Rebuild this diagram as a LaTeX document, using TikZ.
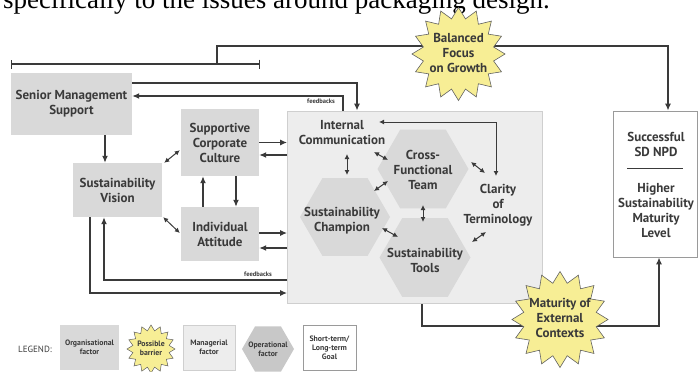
\documentclass[tikz,border=0pt]{standalone}
\usepackage{fontspec}
\setmainfont{PT Sans}
\newfontfamily\textserif{Liberation Serif}
\usetikzlibrary{shapes.geometric,arrows.meta,backgrounds}

\definecolor{ink}{HTML}{3A3A3A}
\definecolor{orgfill}{HTML}{D9D9D9}
\definecolor{mgrfill}{HTML}{EDEDED}
\definecolor{mgrline}{HTML}{CFCFCF}
\definecolor{hexfill}{HTML}{D9D9D9}
\definecolor{starfill}{HTML}{F7EE95}
\definecolor{goalline}{HTML}{9A9A9A}

\begin{document}
\begin{tikzpicture}[x=1pt,y=-1pt,
  lbl/.style={font=\bfseries\fontsize{13}{15}\selectfont, align=center, text=ink, inner sep=0pt},
  tiny/.style={font=\bfseries\fontsize{7.8}{9}\selectfont, align=center, text=ink, inner sep=0pt},
  orgbox/.style={rectangle, fill=orgfill, draw=none, inner sep=0pt},
  mgrbox/.style={rectangle, fill=mgrfill, draw=mgrline, line width=0.8pt, inner sep=0pt},
  goalbox/.style={rectangle, fill=white, draw=goalline, line width=0.8pt, inner sep=0pt},
  hexa/.style={regular polygon, regular polygon sides=6, fill=hexfill, draw=none, inner sep=0pt},
  barrier/.style={star, star points=16, star point ratio=1.3, fill=starfill, draw=ink!80, line width=0.6pt, inner sep=0pt},
  conn/.style={draw=ink, line width=1.3pt},
  arr/.style={conn, -{Latex[length=7pt,width=6pt]}},
  twoway/.style={draw=ink, line width=1pt, {Latex[length=5pt,width=5pt]}-{Latex[length=5pt,width=5pt]}},
]
\useasboundingbox (0,0) rectangle (699,372);

% running text of the page above the figure
\node[anchor=base west, inner sep=0pt, font=\textserif\fontsize{27}{30}\selectfont, text=black] (runline) at (3,8.5)
  {specifically to the issues around packaging design.};

% organisational factors
\node[orgbox, minimum width=121, minimum height=62, lbl] (sms) at (71.5,104) {Senior Management\\Support};
\node[orgbox, minimum width=78, minimum height=67, lbl] (scc) at (220,142.5) {Supportive\\Corporate\\Culture};
\node[orgbox, minimum width=89, minimum height=54, lbl] (sv) at (117.5,190) {Sustainability\\Vision};
\node[orgbox, minimum width=78, minimum height=54, lbl] (ia) at (220,234) {Individual\\Attitude};

% managerial factors and operational hexagons
\node[mgrbox, minimum width=255, minimum height=192] (mgr) at (415,207) {};
\node[hexa, minimum size=91] (cfthex) at (423,169) {};
\node[hexa, minimum size=90] (schex) at (345,217) {};
\node[hexa, minimum size=91] (sthex) at (425,257.5) {};
\node[lbl] (ic) at (342,133) {Internal\\Communication};
\node[lbl] (cft) at (423,170) {Cross-\\Functional\\Team};
\node[lbl] (sc) at (342,220.5) {Sustainability\\Champion};
\node[lbl] (st) at (425,260.5) {Sustainability\\Tools};
\node[lbl] (clar) at (498,205) {Clarity\\of\\Terminology};

% goal
\node[goalbox, minimum width=84, minimum height=146] (goal) at (655,184) {};
\node[lbl] (goalA) at (656,144) {Successful\\SD NPD};
\node[lbl] (goalB) at (656,210) {Higher\\Sustainability\\Maturity\\Level};
\draw[draw=ink, line width=0.8pt] ([xshift=-28pt]goal.center |- 0,168) coordinate (rl) -- ([xshift=28pt]goal.center |- 0,168) coordinate (rr);

% possible barriers
\node[barrier, minimum size=93] (bal) at (458.5,54) {};
\node[lbl] (balt) at (458.5,53) {Balanced\\Focus\\on Growth};
\node[barrier, minimum size=96] (mat) at (560,319.5) {};
\node[lbl] (matt) at (560,318) {Maturity of\\External\\Contexts};

% time bracket
\coordinate (brL) at (11,64);
\coordinate (brR) at (260,64);
\coordinate (brM) at (217,64);
\draw[conn, {Bar[width=9pt]}-{Bar[width=9pt]}] (brL) -- (brR);

\begin{scope}[on background layer]
  \draw[conn] (brM) |- ([yshift=8pt]bal.center);
  \draw[arr] ([yshift=8pt]bal.center) -| ([xshift=13pt]goal.north);
  \draw[conn] ([xshift=7pt]mgr.south) |- ([yshift=-6.5pt]mat.center);
  \draw[arr] ([yshift=-6.5pt]mat.center) -| ([xshift=4pt]goal.south);
\end{scope}

% links between the organisational factors
\draw[arr] ([yshift=21pt]sms.east) -| ([xshift=-58pt]mgr.north);
\draw[arr] ([xshift=-72pt]mgr.north) |- ([yshift=8pt]sms.east);
\node[tiny, font=\bfseries\fontsize{6.5}{7}\selectfont] (fbtop) at (321,101) {feedbacks};
\draw[arr] ([xshift=33.5pt]sms.south) -- ([xshift=-12.5pt]sv.north);
\draw[twoway] ([shift={(2,0)}]sv.north east) -- ([shift={(-1,-26)}]scc.south west);
\draw[twoway] ([shift={(1,0)}]sv.south east) -- ([shift={(-1,-1)}]ia.west);
\draw[arr] (scc.east) -- (scc.east -| mgr.west);
\draw[arr] ([yshift=52pt]mgr.west) -- ([yshift=-12.5pt]scc.east);
\draw[arr] ([xshift=-17pt]ia.north) -- ([xshift=-17pt]scc.south);
\draw[arr] ([xshift=16pt]scc.south) -- ([xshift=16pt]ia.north);
\draw[arr] ([yshift=1pt]ia.east) -- ([yshift=1pt]ia.east -| mgr.west);
\draw[arr] ([yshift=-41pt]mgr.west) -- ([yshift=-14pt]ia.east);
\draw[arr] ([yshift=-73pt]mgr.west) -| ([xshift=-13.5pt]sv.south);
\node[tiny, font=\bfseries\fontsize{6.5}{7}\selectfont] (fbbot) at (258,274) {feedbacks};
\draw[arr] ([xshift=-27.5pt]sv.south) |- ([yshift=-86pt]mgr.west);

% links inside the managerial factors
\coordinate (icR) at (379,122);
\coordinate (clT) at (496,176);
\draw[twoway] (icR) -| (clT);
\coordinate (a1) at (347,154); \coordinate (b1) at (347,175);
\draw[twoway] (a1) -- (b1);
\coordinate (a2) at (374,152); \coordinate (b2) at (388,160);
\draw[twoway] (a2) -- (b2);
\coordinate (a3) at (471,162); \coordinate (b3) at (485,173);
\draw[twoway] (a3) -- (b3);
\coordinate (a4) at (374,191); \coordinate (b4) at (388,181);
\draw[twoway] (a4) -- (b4);
\coordinate (a5) at (423,205); \coordinate (b5) at (423,222);
\draw[twoway] (a5) -- (b5);
\coordinate (a6) at (382,228); \coordinate (b6) at (398,237);
\draw[twoway] (a6) -- (b6);
\coordinate (a7) at (472,242); \coordinate (b7) at (486,232);
\draw[twoway] (a7) -- (b7);

% legend
\node[font=\fontsize{9}{10}\selectfont, text=ink, inner sep=0pt] (legend) at (35,349) {LEGEND:};
\node[orgbox, minimum width=59, minimum height=45, tiny] (lgorg) at (89.5,347.5) {Organisational\\factor};
\node[barrier, minimum size=48, line width=0.5pt] (lgbar) at (151,349) {};
\node[tiny] (lgbart) at (151,348) {Possible\\barrier};
\node[mgrbox, minimum width=52, minimum height=45, tiny] (lgmgr) at (209,347.5) {Managerial\\factor};
\node[hexa, minimum size=52, fill=hexfill!92!black] (lgop) at (268,349) {};
\node[tiny] (lgopt) at (268,349) {Operational\\factor};
\node[goalbox, minimum width=53, minimum height=45, tiny] (lggoal) at (329.5,347.5) {Short-term/\\Long-term\\Goal};
\end{tikzpicture}
\end{document}
